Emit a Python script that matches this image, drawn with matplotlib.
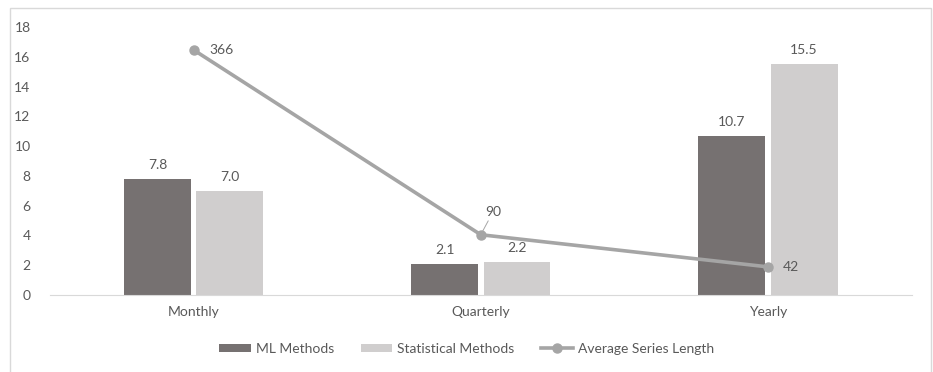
import numpy as np
import matplotlib.pyplot as plt
from matplotlib.patches import Rectangle

plt.rcParams['font.family'] = ['Lato', 'DejaVu Sans']

categories = ["Monthly", "Quarterly", "Yearly"]
ml_methods = [7.8, 2.1, 10.7]
stat_methods = [7.0, 2.2, 15.5]
avg_length = [366, 90, 42]

text_color = "#595959"
ml_color = "#767171"
stat_color = "#D0CECE"
line_color = "#A5A5A5"

fig = plt.figure(figsize=(9.33, 3.72), dpi=100)
ax = fig.add_axes([0.0536, 0.207, 0.9234, 0.720])

# outer chart frame
fig.patches.append(Rectangle((10 / 933, -0.01), 921 / 933, 1 - 8 / 372 + 0.01,
                             transform=fig.transFigure, fill=False,
                             edgecolor="#D9D9D9", linewidth=1.0))

x = np.arange(len(categories))
w = 0.233
off = 0.126
b1 = ax.bar(x - off, ml_methods, w, color=ml_color, label="ML Methods", zorder=2)
b2 = ax.bar(x + off, stat_methods, w, color=stat_color, label="Statistical Methods", zorder=2)

for rect, v in zip(b1, ml_methods):
    ax.text(rect.get_x() + rect.get_width() / 2, v + 0.55, f"{v:.1f}",
            ha="center", va="bottom", fontsize=10, color=text_color)
for rect, v in zip(b2, stat_methods):
    ax.text(rect.get_x() + rect.get_width() / 2, v + 0.55, f"{v:.1f}",
            ha="center", va="bottom", fontsize=10, color=text_color)

ax.set_xlim(-0.5, 2.5)
ax.set_ylim(0, 18)
ax.set_yticks(np.arange(0, 19, 2))
ax.set_xticks(x)
ax.set_xticklabels(categories)
ax.tick_params(axis="both", length=0, labelsize=10, labelcolor=text_color)
ax.tick_params(axis="y", pad=14)
ax.tick_params(axis="x", pad=8)
for s in ["top", "right", "left"]:
    ax.spines[s].set_visible(False)
ax.spines["bottom"].set_color("#D9D9D9")

# series length on a hidden secondary scale
ax2 = ax.twinx()
ax2.set_ylim(0, 400)
ax2.axis("off")
ln, = ax2.plot(x, avg_length, color=line_color, linewidth=2.6, marker="o",
               markersize=6.5, label="Average Series Length", zorder=3)

ax2.annotate(str(avg_length[0]), (x[0], avg_length[0]), xytext=(11, 0),
             textcoords="offset points", ha="left", va="center",
             fontsize=10, color=text_color)
ax2.annotate(str(avg_length[1]), (x[1], avg_length[1]), xytext=(3, 12),
             textcoords="offset points", ha="left", va="bottom",
             fontsize=10, color=text_color,
             arrowprops=dict(arrowstyle="-", color="#A6A6A6", lw=0.7,
                             shrinkA=0, shrinkB=3))
ax2.annotate(str(avg_length[2]), (x[2], avg_length[2]), xytext=(11, 0),
             textcoords="offset points", ha="left", va="center",
             fontsize=10, color=text_color)

handles = [b1, b2, ln]
fig.legend(handles, [h.get_label() for h in handles], loc="center",
           bbox_to_anchor=(0.5, 0.062), ncol=3, frameon=False, fontsize=10,
           labelcolor=text_color, handlelength=2.3, handleheight=0.6,
           handletextpad=0.35, columnspacing=1.9)

fig.savefig("out.png", dpi=100)
